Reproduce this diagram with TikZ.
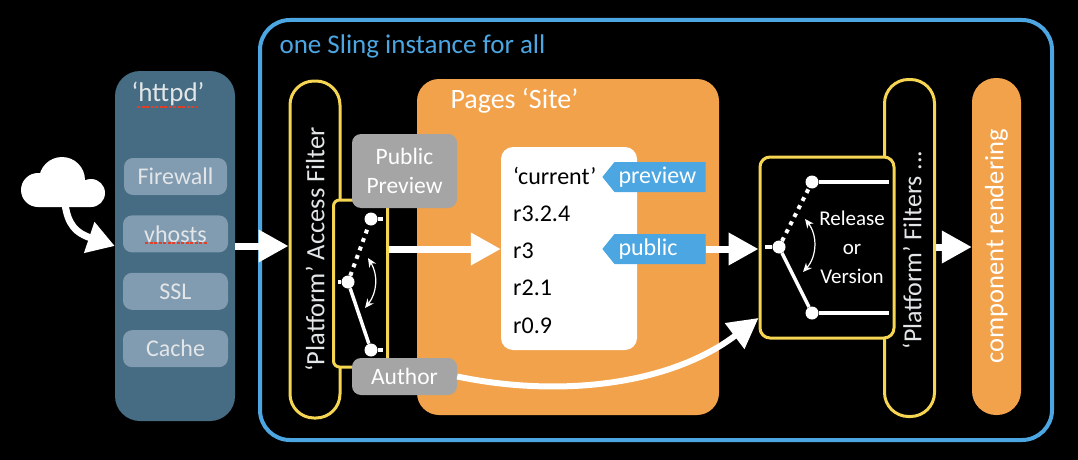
\documentclass[tikz,border=0pt]{standalone}
\usepackage{fontspec}
\setmainfont{Carlito}
\usepackage{xcolor}
\usetikzlibrary{arrows.meta,positioning,shapes.symbols}
\definecolor{slingblue}{HTML}{4BA6E2}
\definecolor{filteryellow}{HTML}{F5D552}
\definecolor{pageorange}{HTML}{F2A24B}
\definecolor{httpdblue}{HTML}{456C82}
\definecolor{itemblue}{HTML}{819BB0}
\definecolor{itemtext}{HTML}{E3E6E8}
\definecolor{boxgray}{HTML}{A5A5A5}
\definecolor{spellred}{HTML}{E0402A}

\begin{document}
\begin{tikzpicture}[x=1pt,y=-1pt,
  outerbox/.style={rectangle, rounded corners=30pt, draw=slingblue, line width=4pt, minimum width=792pt,
              minimum height=420pt},
  httpdbox/.style={rectangle, rounded corners=25pt, fill=httpdblue, minimum width=120pt, minimum height=350pt},
  item/.style={rectangle, rounded corners=9pt, fill=itemblue, minimum width=105pt, minimum height=37pt,
              font=\fontsize{24}{26}\selectfont, text=itemtext},
  pillbox/.style={rectangle, rounded corners=24pt, draw=filteryellow, line width=3pt, fill=black,
              minimum width=337pt, minimum height=50pt, rotate=90, font=\fontsize{26.5}{30}\selectfont, text=itemtext},
  switchbox/.style={rectangle, rounded corners=6pt, draw=filteryellow, line width=3pt, fill=black},
  gray box/.style={rectangle, rounded corners=9pt, fill=boxgray, minimum width=105pt, align=center,
              font=\fontsize{23.5}{29}\selectfont, text=white},
  ver/.style={minimum height=37pt, inner xsep=0pt, inner ysep=0pt, font=\fontsize{24}{26}\selectfont, text=black},
  tag/.style={signal, signal to=west, signal pointer angle=102, fill=slingblue, minimum height=30pt,
              text width=83pt, inner xsep=4pt, inner ysep=0pt, align=left,
              font=\fontsize{24}{26}\selectfont, text=white},
  dot/.style={circle, fill=white, inner sep=0pt, minimum size=13pt},
  wire/.style={draw=white, line width=3.5pt},
  dotwire/.style={draw=white, line width=4pt, dash pattern=on 4pt off 5pt},
  toggle/.style={{Stealth[length=9pt,width=8pt]}-{Stealth[length=9pt,width=8pt]}, draw=white, line width=1.2pt},
  bigarrow/.style={-{Triangle[length=30pt,width=31pt]}, draw=white, line width=7pt},
  spell/.style={draw=spellred, line width=1.2pt, dash pattern=on 3pt off 1.5pt}
]
  \path[use as bounding box,fill=black] (0,0) rectangle (1078,460);

  \node[outerbox] (sling) at (656,230) {};
  \node[font=\fontsize{27}{30}\selectfont, text=slingblue, anchor=west] (slingtitle) at (276,46) {one Sling instance for all};

  % httpd column
  \node[httpdbox] (httpd) at (175,246) {};
  \node[font=\fontsize{27}{30}\selectfont, text=itemtext] (httpdtitle) at (168,94) {‘httpd’};
  \node[item,minimum width=103pt] (firewall) at (175.5,176.5) {Firewall};
  \node[item,below=20pt of firewall] (vhosts) {vhosts};
  \node[item,below=20pt of vhosts] (ssl) {SSL};
  \node[item,below=20pt of ssl] (cache) {Cache};
  \draw[spell] (137,107) -- (197,107);
  \draw[spell] (145,243) -- (208,243);

  % cloud
  \coordinate (cloudfoot) at (65,204);
  \draw[bigarrow,-{Triangle[length=27pt,width=31pt]}] (cloudfoot) .. controls (68,225) and (76,233) .. (httpd.west);
  \fill[white] (38,190) circle (17pt) (62,180) circle (23pt) (91,193) circle (14pt)
    (38,185) rectangle (91,207);

  \node[pillbox] (access) at (315,249.5) {‘Platform’ Access Filter};
  \draw[bigarrow] (httpd.east) -- (access.north |- httpd.east);

  % pages
  \node[rectangle, rounded corners=22pt, fill=pageorange, minimum width=302pt, minimum height=336pt] (pages) at (568,247) {};
  \node[font=\fontsize{28}{30}\selectfont, text=white, anchor=west] (pagestitle) at (447,101) {Pages ‘Site’};
  \node[rectangle, rounded corners=12pt, fill=white, minimum width=136pt, minimum height=203pt] (list) at (569,248.5) {};
  \node[ver,anchor=west] (current) at (513,176) {‘current’};
  \node[ver,below=0pt of current.south west,anchor=north west] (r324) {r3.2.4};
  \node[ver,below=0pt of r324.south west,anchor=north west] (r3) {r3};
  \node[ver,below=0pt of r3.south west,anchor=north west] (r21) {r2.1};
  \node[ver,below=0pt of r21.south west,anchor=north west] (r09) {r0.9};
  \node[tag] (preview) at (660,177) {preview};
  \node[tag] (public) at (660,249) {public};

  % access switch
  \node[switchbox,minimum width=54pt,minimum height=167pt] (accessswitch) at (360.5,283.5) {};
  \node[dot] (swtop) at (371,219) {};
  \node[dot] (swmid) at (348,282) {};
  \node[dot] (swbot) at (371,350) {};
  \coordinate (swin) at (338,282);
  \coordinate (swtopout) at (383,219);
  \coordinate (swbotout) at (383,350);
  \draw[wire] (swin) -- (swmid);
  \draw[wire] (swtop) -- (swtopout);
  \draw[wire] (swbot) -- (swbotout);
  \draw[dotwire] (swmid) -- (swtop);
  \draw[wire] (swmid) -- (swbot);
  \coordinate (swa) at (368,258);
  \coordinate (swb) at (365,308);
  \draw[toggle] (swa) to[bend left=35] (swb);

  \node[gray box,minimum height=74pt] (publicbox) at (404.5,171) {Public\\Preview};
  \node[gray box,minimum height=37pt] (author) at (404.5,376.5) {Author};

  % release switch
  \node[pillbox] (filters) at (909.5,248) {};
  \node[switchbox,rounded corners=10pt,minimum width=134pt,minimum height=181pt] (release) at (827,247.5) {};
  \node[rotate=90, font=\fontsize{26}{30}\selectfont, text=itemtext] (filterstext) at (912,250) {‘Platform’ Filters ...};
  \node[dot] (reltop) at (812,182) {};
  \node[dot] (relmid) at (779,247) {};
  \node[dot] (relbot) at (812,313) {};
  \coordinate (relin) at (765,247);
  \coordinate (reltopout) at (889,182);
  \coordinate (relbotout) at (889,313);
  \draw[wire] (relin) -- (relmid);
  \draw[wire] (reltop) -- (reltopout);
  \draw[wire] (relbot) -- (relbotout);
  \draw[dotwire] (relmid) -- (reltop);
  \draw[wire] (relmid) -- (relbot);
  \coordinate (rela) at (805,219);
  \coordinate (relb) at (803,272);
  \draw[toggle] (rela) to[bend left=40] (relb);
  \node[align=center, font=\fontsize{21}{29}\selectfont, text=white] (reltext) at (852,247) {Release\\or\\Version};

  \node[rectangle, rounded corners=24pt, fill=pageorange, minimum width=337pt, minimum height=49pt, rotate=90,
        font=\fontsize{26.5}{30}\selectfont, text=white] (render) at (996.5,246.5) {component rendering};

  % flow arrows
  \draw[bigarrow] (accessswitch.east |- public.west) -- (list.west |- public.west);
  \draw[bigarrow] (public.east) -- (release.west |- public.east);
  \draw[bigarrow] (filters.south |- relmid) -- (render.north |- relmid);
  \coordinate (authorin) at (758.5,318);
  \draw[bigarrow,line width=6pt] (author.east) .. controls (560,398) and (670,385) .. (authorin);
\end{tikzpicture}
\end{document}
